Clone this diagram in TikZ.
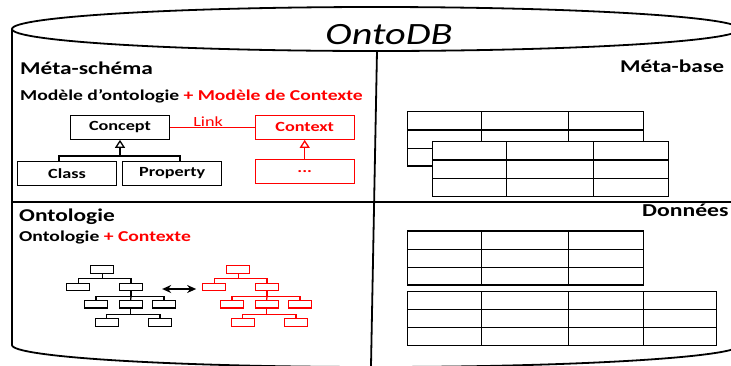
\documentclass[tikz,border=0pt]{standalone}
\usepackage{fontspec}
\setmainfont{Carlito}
\usetikzlibrary{arrows.meta,calc}
\definecolor{cred}{RGB}{255,0,0}
\newcommand\sx[1]{\scalebox{1.3}[1]{#1}}
\tikzset{
  wall/.style={line width=1.8pt},
  tline/.style={line width=1.5pt},
  umlbox/.style={draw, line width=1.3pt, minimum width=99pt, minimum height=24pt, inner sep=0pt, font=\bfseries\fontsize{14}{14}\selectfont},
  redbox/.style={umlbox, draw=cred, text=cred},
  tb/.style={draw, line width=1.3pt, minimum width=23pt, minimum height=7.5pt, inner sep=0pt},
  rtb/.style={tb, draw=cred},
  heading/.style={inner sep=0pt, anchor=base west, font=\bfseries\fontsize{18}{18}\selectfont},
  subheading/.style={inner sep=0pt, anchor=base west, font=\bfseries\fontsize{15.1}{15.1}\selectfont},
  gen/.style={-{Triangle[open, length=8pt, width=10pt]}, line width=1.3pt},
  treeline/.style={line width=1.3pt},
}
\begin{document}
\begin{tikzpicture}[x=1pt,y=-1pt]
\path[use as bounding box] (0,0) rectangle (731,365);
\begin{scope}
\clip (0,0) rectangle (731,365);
% cylinder
\draw[wall] (376,29) ellipse [x radius=364, y radius=22];
\draw[wall] (12,29) -- (12,345) arc[start angle=180, end angle=0, x radius=364, y radius=22] -- (740,29);
\draw[wall] (12,202) -- (740,202);
\draw[wall] (377,51) -- (371,366);

% title
\node[inner sep=0pt, anchor=base, font=\itshape\fontsize{31}{31}\selectfont] (title) at (389,44) {\sx{OntoDB}};

% headings
\node[heading] (ms) at (20,74) {\sx{Méta-schéma}};
\node[subheading] (msub) at (20,100) {\sx{Modèle d’ontologie \textcolor{cred}{+ Modèle de Contexte}}};
\node[heading] (mb) at (620,72) {\sx{Méta-base}};
\node[heading] (onto) at (19,221.7) {\sx{Ontologie}};
\node[subheading] (ontosub) at (19,241) {\sx{Ontologie \textcolor{cred}{+ Contexte}}};
\node[heading, font=\bfseries\fontsize{18.2}{18.2}\selectfont] (donnees) at (642,216.7) {\sx{Données}};

% UML
\node[umlbox] (concept) at (120,127.2) {\sx{Concept}};
\node[umlbox] (class) at (67,173.4) {\sx{Class}};
\node[umlbox] (property) at (172.2,173.4) {\sx{Property}};
\node[redbox] (context) at (304.7,127.2) {\sx{Context}};
\node[redbox] (dots) at (304.7,171.7) {\sx{...}};
\coordinate (j1) at ($(concept.south)+(0,16)$);
\draw[tline] ([xshift=-8pt]class.north) |- (j1) -| ([xshift=8pt]property.north);
\draw[gen] (j1) -- (concept.south);
\draw[gen, draw=cred] (dots.north) -- (context.south);
\draw[cred, line width=1.1pt] (concept.east) -- node[pos=.45, above=0.5pt, inner sep=0pt, font=\fontsize{14}{14}\selectfont]{\sx{Link}} (context.west);

% black tree
\node[tb] (t0) at (102.3,269.5) {};
\node[tb] (t1) at (78.3,287) {};
\node[tb] (t2) at (131,287) {};
\node[tb] (t3) at (96,304.2) {};
\node[tb] (t4) at (130.7,304.2) {};
\node[tb] (t5) at (164,304.2) {};
\node[tb] (t6) at (106.7,322.5) {};
\node[tb] (t7) at (160,322.5) {};
\draw[treeline] (t0.south) -- ++(0,4.4) coordinate (ja) -| (t1.north);
\draw[treeline] (ja) -| (t2.north);
\draw[treeline] (t2.south) -- ++(0,5) coordinate (jb) -| (t3.north);
\draw[treeline] (jb) -| (t5.north);
\draw[treeline] (jb) -- (t4.north);
\draw[treeline] (t4.south) -- ++(0,5.6) coordinate (jc) -| (t6.north);
\draw[treeline] (jc) -| (t7.north);

% red tree
\begin{scope}[cred]
\node[rtb] (r0) at (238.3,269.5) {};
\node[rtb] (r1) at (214.3,287) {};
\node[rtb] (r2) at (267,287) {};
\node[rtb] (r3) at (232,304.2) {};
\node[rtb] (r4) at (266.7,304.2) {};
\node[rtb] (r5) at (300,304.2) {};
\node[rtb] (r6) at (242.7,322.5) {};
\node[rtb] (r7) at (296,322.5) {};
\draw[treeline] (r0.south) -- ++(0,4.4) coordinate (ka) -| (r1.north);
\draw[treeline] (ka) -| (r2.north);
\draw[treeline] (r2.south) -- ++(0,5) coordinate (kb) -| (r3.north);
\draw[treeline] (kb) -| (r5.north);
\draw[treeline] (kb) -- (r4.north);
\draw[treeline] (r4.south) -- ++(0,5.6) coordinate (kc) -| (r6.north);
\draw[treeline] (kc) -| (r7.north);
\end{scope}

% double arrow
\draw[{Stealth[length=9pt,width=8pt]}-{Stealth[length=9pt,width=8pt]}, line width=1.3pt, shorten <=19pt, shorten >=6pt] ([yshift=-2pt]t2.east) -- ([yshift=-2pt]r1.west);

% tables
\draw[tline] (407.3,111.7) rectangle (643.3,166);
\foreach \yy in {130,148.3} \draw[tline] (407.3,\yy) -- (643.3,\yy);
\foreach \xx in {481.7,568.3} \draw[tline] (\xx,111.7) -- (\xx,166);

\draw[tline, fill=white] (432.3,141.7) rectangle (668.3,196.7);
\foreach \yy in {160,178.3} \draw[tline] (432.3,\yy) -- (668.3,\yy);
\foreach \xx in {506.7,593.3} \draw[tline] (\xx,141.7) -- (\xx,196.7);

\draw[tline] (407.3,231) rectangle (643.3,285);
\foreach \yy in {249.3,267.3} \draw[tline] (407.3,\yy) -- (643.3,\yy);
\foreach \xx in {481.7,568.3} \draw[tline] (\xx,231) -- (\xx,285);

\draw[tline] (407.3,291.7) rectangle (716.7,345.7);
\foreach \yy in {309.3,327.7} \draw[tline] (407.3,\yy) -- (716.7,\yy);
\foreach \xx in {481.7,568.3,643.3} \draw[tline] (\xx,291.7) -- (\xx,345.7);
\end{scope}
\end{tikzpicture}
\end{document}
